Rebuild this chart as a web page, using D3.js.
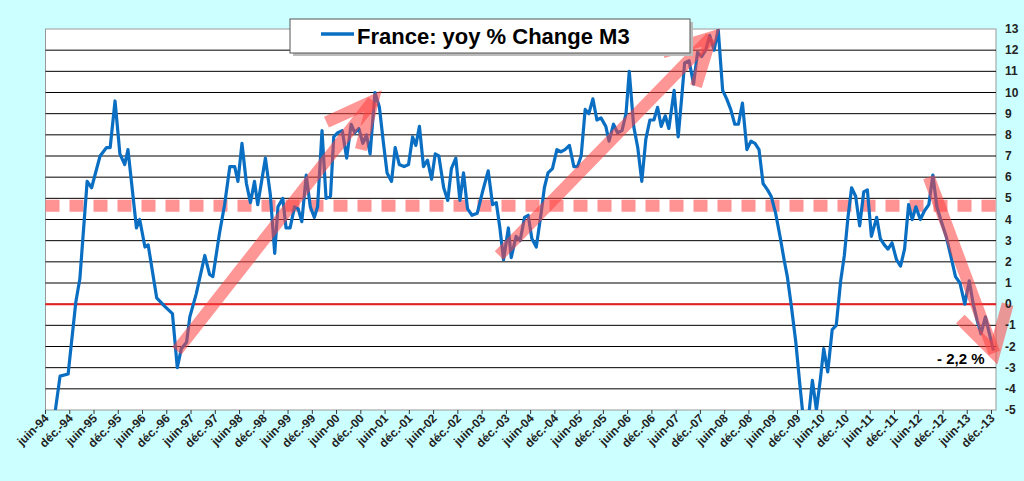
<!DOCTYPE html>
<html><head><meta charset="utf-8">
<script src="https://cdn.jsdelivr.net/npm/d3@7"></script>
<style>body{margin:0;background:#ccffff;font-family:"Liberation Sans",Arial,sans-serif}</style>
</head><body><svg id="c" width="1024" height="481"></svg>
<script>
// months counted from juin-94 (0) and yoy % values
const months = [1,3.6,5.6,7.5,8.5,10.3,11.4,13.5,15.1,16,17.2,18.4,19.6,20.4,22.5,23.3,24.6,25.4,27.5,29.5,31.4,32.6,33.6,34.9,35.7,37.3,39.4,40.6,41.4,43,44.3,45.6,46.8,47.6,48.6,49.7,50.7,51.7,52.5,54.4,55.6,56.7,57.5,58.7,59.5,60.5,61.6,62.5,63.4,64.5,65.5,66.5,67.3,68.4,69.4,70.5,71.3,72.3,73.4,74.5,75.6,76.5,77.5,78.5,79.4,80.3,81.5,82.6,83.6,84.5,85.6,86.5,87.5,88.7,89.8,90.8,91.6,92.5,93.5,94.5,95.5,96.4,97.3,98.5,99.5,100.4,101.5,102.5,103.4,104.4,105.5,106.8,108.1,109.5,110.6,111.5,112.4,113.3,114.5,115.2,116.4,117.4,118.5,119.4,120.3,121.4,122.6,123.4,124.3,125.4,126.5,127.5,128.5,129.6,130.7,131.6,132.5,133.5,134.4,135.4,136.4,137.4,138.6,139.4,140.5,141.5,142.6,143.6,144.4,145.5,146.5,147.5,148.5,149.5,150.5,151.4,152.3,153.3,154.2,155.5,156.5,157.3,158.1,159.2,160.3,161.3,162.3,163.3,164.3,165.4,166.4,167.5,168.5,169.5,170.5,171.4,172.4,173.5,174.5,175.5,176.5,177.5,178.6,179.5,180.6,181.7,182.7,183.5,184.5,185.6,186.6,187.5,188.5,189.7,190.7,191.7,192.5,193.5,194.6,195.6,196.7,197.6,198.5,199.4,200.4,201.4,202.4,203.3,204.3,205.6,206.5,207.5,208.4,209.4,210.5,211.5,212.5,213.5,214.4,215.3,216.4,217.4,218.5,219.5,220.5,221.6,222.8,223.9,225.1,226.2,227.4,228.5,229.5,230.5,231.4,232.5,233.5,234.5];
const m3Yoy = [-7,-3.4,-3.3,0.1,1.2,5.8,5.5,7.0,7.4,7.4,9.6,7.1,6.6,7.3,3.6,4.0,2.7,2.8,0.3,-0.1,-0.45,-3.0,-2.1,-1.8,-0.6,0.5,2.3,1.4,1.3,3.3,4.7,6.5,6.5,5.8,7.6,5.7,4.8,5.8,4.7,6.9,5.2,2.4,4.6,5.0,3.6,3.6,4.6,4.5,3.9,6.1,4.6,4.1,4.6,8.2,5.0,5.1,7.9,8.1,8.2,6.9,8.5,8.1,8.3,7.6,8.0,7.1,10.0,9.3,7.6,6.2,5.8,7.4,6.6,6.5,6.6,7.9,7.5,8.4,6.5,6.8,5.9,7.1,7.0,5.5,4.9,6.4,6.9,4.9,6.2,4.5,4.2,4.3,5.3,6.3,4.7,4.8,3.6,2.1,3.6,2.2,3.2,3.0,4.1,4.2,3.1,2.7,4.3,5.5,6.2,6.4,7.3,7.2,7.3,7.5,6.5,6.5,7.0,9.2,9.0,9.7,8.7,8.8,8.4,7.7,8.5,8.1,8.2,9.0,11.0,8.4,7.4,5.8,7.8,8.7,8.7,9.3,8.4,8.9,8.3,10.1,7.9,9.6,11.4,11.5,10.4,11.9,11.7,12.0,12.7,12.0,13.0,10.1,9.7,9.2,8.5,8.5,9.5,7.3,7.7,7.6,7.3,5.7,5.4,5.1,4.3,3.2,2.1,1.3,-0.1,-1.8,-3.8,-5.5,-5.8,-3.6,-5.0,-3.5,-2.1,-3.2,-1.2,-1.0,1.1,2.3,4.1,5.5,5.1,3.7,5.3,5.4,3.2,4.1,3.1,2.8,2.6,2.9,2.1,1.8,2.6,4.7,4.0,4.6,4.0,4.4,4.7,6.1,4.6,3.9,3.2,2.3,1.3,1.0,0.0,1.1,0.0,-0.8,-1.4,-0.6,-1.4,-2.2];
const tickLabels = [];
for (let y = 94; y <= 113; y++) {
  const yy = String(y % 100).padStart(2, "0");
  tickLabels.push("juin-" + yy, "déc.-" + yy);
}
const yTicks = d3.range(-5, 14);
const avgLine = 4.65;
// arrows: [start, tip, head end 1, head end 2] as [month, value]
const arrows = [
  [[32.5,-2.2],[81,9.6],[69.5,8.6],[78,7.3]],
  [[112.2,2.3],[164.6,12.6],[152.7,11.9],[160.9,10.3]],
  [[218.5,6.0],[234.7,-2.3],[226.3,-0.7],[238,0]]
];

const svg = d3.select("#c");
const L = 45.5, R = 996, T = 29, B = 410;
const x = d3.scaleLinear().domain([0, 234.5]).range([L, 993.5]);
const y = d3.scaleLinear().domain([-5, 13]).range([B, T]);

svg.append("rect").attr("x", L).attr("y", T).attr("width", R - L).attr("height", B - T)
  .attr("fill", "#fff").attr("stroke", "#999");
svg.append("defs").append("clipPath").attr("id", "clip")
  .append("rect").attr("x", L).attr("y", T).attr("width", R - L).attr("height", B - T);

svg.append("g").selectAll("line").data(yTicks.slice(1, -1)).join("line")
  .attr("x1", L).attr("x2", R).attr("y1", d => y(d)).attr("y2", d => y(d))
  .attr("stroke", "#000").attr("stroke-width", 1);

svg.append("line").attr("x1", L).attr("x2", R).attr("y1", y(avgLine)).attr("y2", y(avgLine))
  .attr("stroke", "#ff8080").attr("stroke-opacity", 0.85).attr("stroke-width", 12)
  .attr("stroke-dasharray", "14,10");
svg.append("line").attr("x1", L).attr("x2", R).attr("y1", y(0)).attr("y2", y(0))
  .attr("stroke", "#e82020").attr("stroke-width", 2);

const data = months.map((m, i) => [m, m3Yoy[i]]);
svg.append("path").datum(data).attr("clip-path", "url(#clip)")
  .attr("fill", "none").attr("stroke", "#0a6fc2").attr("stroke-width", 3.2)
  .attr("stroke-linejoin", "round")
  .attr("d", d3.line().x(d => x(d[0])).y(d => y(d[1])));

const ag = svg.append("g").attr("stroke", "#ff4040").attr("stroke-opacity", 0.55)
  .attr("stroke-width", 12).attr("stroke-linecap", "butt").attr("fill", "none");
arrows.forEach(a => {
  const p = a.map(d => [x(d[0]), y(d[1])]);
  ag.append("path").attr("d", d3.line()([p[0], p[1]]));
  ag.append("path").attr("stroke-linejoin", "miter").attr("d", d3.line()([p[2], p[1], p[3]]));
});

// right axis
svg.append("g").selectAll("text").data(yTicks).join("text")
  .attr("x", 1005).attr("y", d => y(d) + 4).text(d => d)
  .attr("font-size", 12).attr("font-weight", "bold").attr("fill", "#222");

// bottom axis
const xt = svg.append("g");
xt.selectAll("line").data(tickLabels).join("line")
  .attr("x1", (d, i) => x(i * 6)).attr("x2", (d, i) => x(i * 6)).attr("y1", B).attr("y2", B + 4)
  .attr("stroke", "#333");
xt.selectAll("text").data(tickLabels).join("text")
  .attr("transform", (d, i) => `translate(${x(i * 6) + 4},${B + 9}) rotate(-45)`)
  .attr("text-anchor", "end").attr("font-size", 12).attr("font-weight", "bold").attr("fill", "#222")
  .text(d => d);

svg.append("text").attr("x", 937).attr("y", 364).text("- 2,2 %")
  .attr("font-size", 15).attr("font-weight", "bold");

// legend box
svg.append("rect").attr("x", 293).attr("y", 22).attr("width", 400).attr("height", 34).attr("fill", "#bbb");
svg.append("rect").attr("x", 290).attr("y", 19).attr("width", 400).attr("height", 34)
  .attr("fill", "#fff").attr("stroke", "#555");
svg.append("line").attr("x1", 321).attr("x2", 354).attr("y1", 34).attr("y2", 34)
  .attr("stroke", "#0a6fc2").attr("stroke-width", 3.5);
svg.append("text").attr("x", 357).attr("y", 44).text("France: yoy % Change M3")
  .attr("font-size", 22).attr("font-weight", "bold");
</script></body></html>
